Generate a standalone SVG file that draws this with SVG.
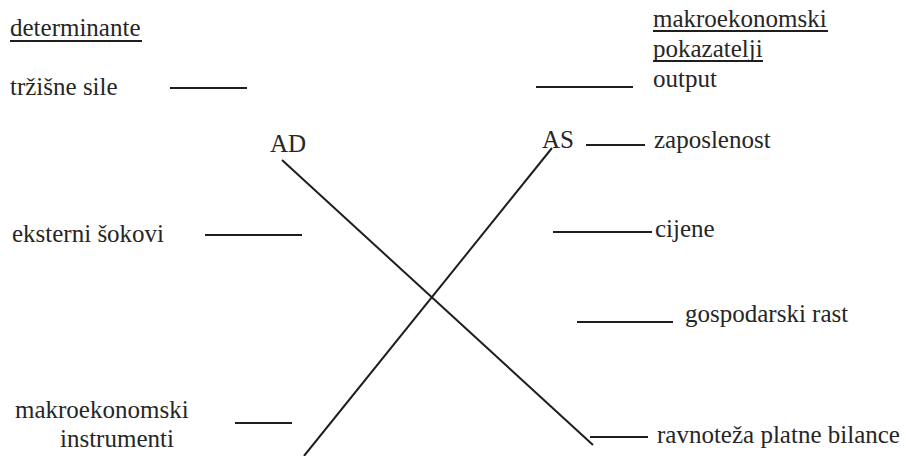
<svg xmlns="http://www.w3.org/2000/svg" width="906" height="456" viewBox="0 0 906 456">
  <style>
    text { font-family: 'Liberation Serif', 'DejaVu Serif', serif; font-size: 25px; fill: #262626; }
    .ln { stroke: #1e1e1e; stroke-width: 2; fill: none; stroke-linecap: butt; }
  </style>
  <rect width="906" height="456" fill="#ffffff"/>

  <!-- left column: determinants -->
  <g id="determinante">
    <text x="10" y="36" font-family="Liberation Serif">determinante</text>
    <line class="ln" x1="10" y1="41" x2="142" y2="41"/>
  </g>
  <g id="trzisne-sile">
    <text x="10" y="95" font-family="Liberation Serif">tržišne sile</text>
  </g>
  <g id="eksterni-sokovi">
    <text x="12" y="242" font-family="Liberation Serif">eksterni šokovi</text>
  </g>
  <g id="makroekonomski-instrumenti">
    <text x="15" y="418" font-family="Liberation Serif">makroekonomski</text>
    <text x="60" y="447" font-family="Liberation Serif">instrumenti</text>
  </g>

  <!-- curves -->
  <g id="AD">
    <text x="270" y="152" font-family="Liberation Serif">AD</text>
  </g>
  <g id="AS">
    <text x="542" y="148" font-family="Liberation Serif">AS</text>
  </g>

  <!-- right column: macroeconomic indicators -->
  <g id="pokazatelji">
    <text x="653" y="27" font-family="Liberation Serif">makroekonomski</text>
    <line class="ln" x1="653" y1="31" x2="828" y2="31"/>
    <text x="653" y="57" font-family="Liberation Serif">pokazatelji</text>
    <line class="ln" x1="653" y1="61" x2="763" y2="61"/>
  </g>
  <g id="output">
    <text x="653" y="87" font-family="Liberation Serif">output</text>
  </g>
  <g id="zaposlenost">
    <text x="654" y="148" font-family="Liberation Serif">zaposlenost</text>
  </g>
  <g id="cijene">
    <text x="655" y="237" font-family="Liberation Serif">cijene</text>
  </g>
  <g id="gospodarski-rast">
    <text x="685" y="322" font-family="Liberation Serif">gospodarski rast</text>
  </g>
  <g id="ravnoteza">
    <text x="657" y="443" font-family="Liberation Serif">ravnoteža platne bilance</text>
  </g>

  <g id="connectors">
    <!-- AD and AS curves -->
    <line class="ln" x1="282" y1="160" x2="593" y2="445"/>
    <line class="ln" x1="552" y1="148" x2="304" y2="456"/>
    <!-- short link strokes -->
    <line class="ln" x1="170" y1="88" x2="247" y2="88"/>
    <line class="ln" x1="205" y1="235" x2="302" y2="235"/>
    <line class="ln" x1="235" y1="423" x2="292" y2="423"/>
    <line class="ln" x1="536" y1="87" x2="633" y2="87"/>
    <line class="ln" x1="586" y1="145" x2="645" y2="145"/>
    <line class="ln" x1="553" y1="232" x2="652" y2="232"/>
    <line class="ln" x1="577" y1="322" x2="673" y2="322"/>
    <line class="ln" x1="590" y1="437" x2="648" y2="437"/>
  </g>
</svg>
